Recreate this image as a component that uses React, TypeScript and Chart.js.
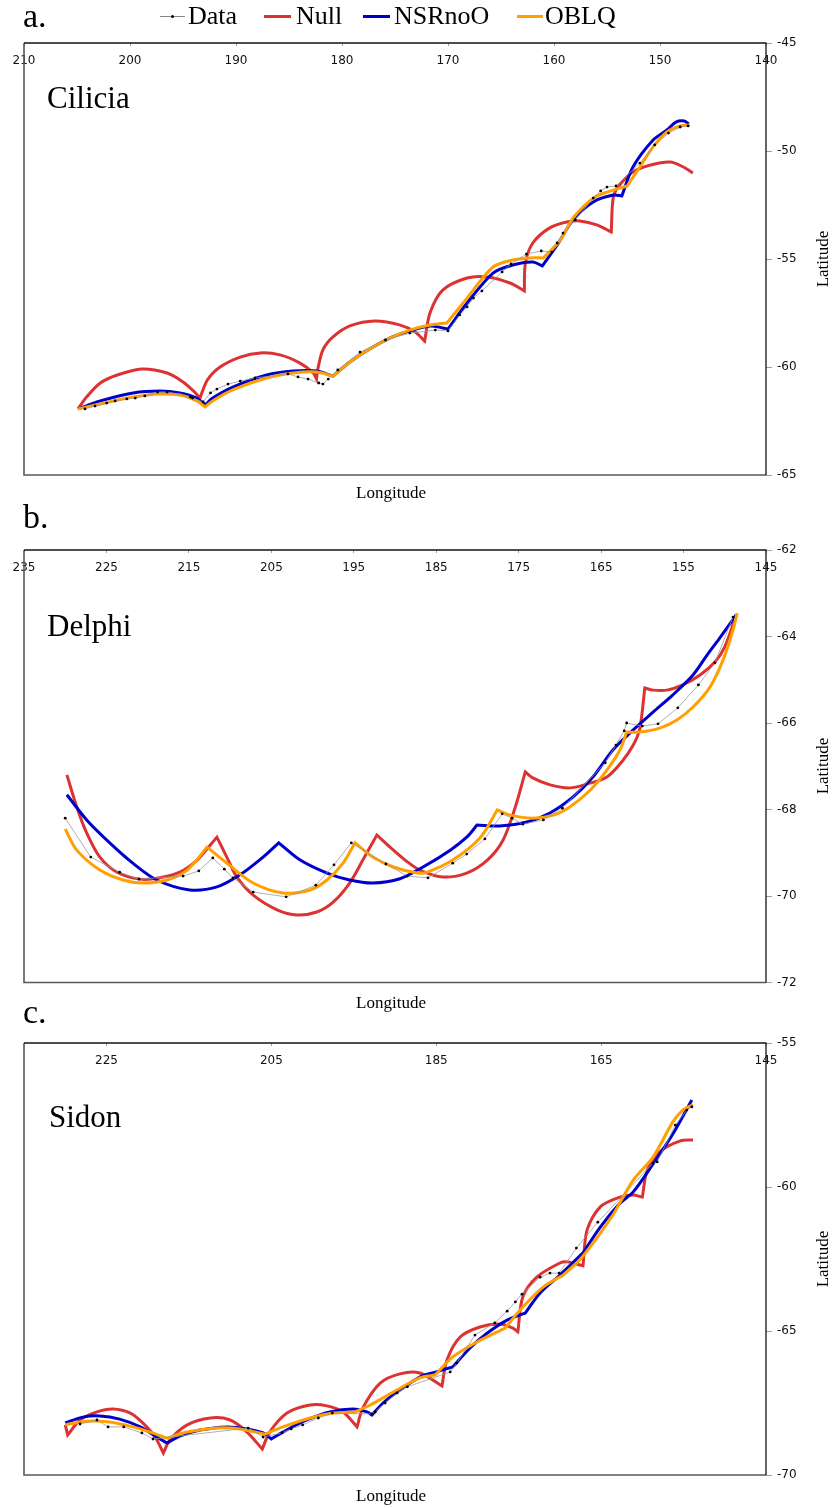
import React, { useEffect, useRef } from "react";
import { Chart, registerables } from "chart.js";

Chart.register(...registerables);

type Pt = [number, number];

// ---------- axes ----------
const CILICIA_X_TICKS = [210, 200, 190, 180, 170, 160, 150, 140];
const CILICIA_Y_TICKS = [-45, -50, -55, -60, -65];
const DELPHI_X_TICKS = [235, 225, 215, 205, 195, 185, 175, 165, 155, 145];
const DELPHI_Y_TICKS = [-62, -64, -66, -68, -70, -72];
const SIDON_X_TICKS = [225, 205, 185, 165, 145];
const SIDON_Y_TICKS = [-55, -60, -65, -70];

// ---------- a. Cilicia ----------
const CILICIA_DATA: Pt[] = [
  [204.25, -61.94], [203.3, -61.81], [202.2, -61.67], [201.4, -61.57], [200.3, -61.48], [199.5, -61.44],
  [198.6, -61.34], [197.4, -61.16], [196.5, -61.16], [194.3, -61.39], [194.1, -61.44], [193.1, -61.62],
  [192.4, -61.2], [191.8, -61.02], [190.75, -60.79], [189.6, -60.65], [188.2, -60.51], [185.1, -60.32],
  [184.15, -60.46], [183.2, -60.56], [182.2, -60.74], [181.8, -60.79], [181.3, -60.56], [180.4, -60.14],
  [178.3, -59.31], [175.9, -58.75], [173.6, -58.43], [171.2, -58.29], [170.0, -58.33], [168.9, -57.59],
  [168.2, -57.22], [167.6, -56.81], [166.8, -56.48], [164.9, -55.6], [164.05, -55.23], [162.6, -54.77],
  [161.2, -54.63], [160.2, -54.68], [159.7, -54.26], [159.15, -53.8], [158.0, -53.19], [156.3, -52.18],
  [155.6, -51.85], [155.0, -51.67], [154.15, -51.62], [151.9, -50.56], [150.5, -49.72], [149.2, -49.17],
  [148.1, -48.89], [147.35, -48.84],
];
const CILICIA_NULL: Pt[][] = [
  [[204.9, -61.94], [204.1, -61.39], [202.8, -60.74], [201.2, -60.37], [198.9, -60.09], [196.5, -60.28], [195.0, -60.69], [193.9, -61.16], [193.4, -61.44]],
  [[193.4, -61.44], [192.7, -60.6], [191.5, -60.0], [189.6, -59.54], [187.7, -59.35], [185.85, -59.44], [184.0, -59.81], [182.7, -60.28], [182.4, -60.56]],
  [[182.4, -60.56], [182.3, -60.14], [181.8, -59.21], [180.85, -58.61], [179.25, -58.1], [176.9, -57.87], [174.5, -58.06], [173.1, -58.38], [172.2, -58.8]],
  [[172.2, -58.8], [171.7, -57.5], [170.5, -56.44], [168.2, -55.88], [166.3, -55.83], [164.15, -56.11], [162.8, -56.48]],
  [[162.8, -56.48], [162.7, -55.19], [162.0, -54.26], [160.4, -53.56], [158.8, -53.29], [157.55, -53.24], [155.9, -53.43], [154.6, -53.75]],
  [[154.6, -53.75], [154.4, -52.13], [153.8, -51.57], [152.55, -50.97], [150.9, -50.65], [149.05, -50.51], [147.8, -50.74], [146.9, -51.02]],
];
const CILICIA_NSR: Pt[][] = [
  [[204.9, -61.94], [202.8, -61.57], [199.7, -61.2], [197.2, -61.11], [195.3, -61.2], [193.7, -61.44], [192.9, -61.76]],
  [[192.9, -61.76], [192.2, -61.44], [190.3, -60.93], [187.1, -60.37], [184.6, -60.19], [182.4, -60.19], [180.85, -60.42]],
  [[180.85, -60.42], [179.25, -59.77], [177.4, -59.17], [175.5, -58.66], [173.6, -58.33], [171.7, -58.1], [170.5, -58.19], [170.0, -58.24]],
  [[170.0, -58.24], [168.2, -57.04], [165.75, -55.65], [163.9, -55.28], [162.0, -55.14], [161.1, -55.32]],
  [[161.1, -55.32], [159.7, -54.35], [158.2, -53.19], [156.3, -52.36], [154.4, -52.04], [153.6, -52.08]],
  [[153.6, -52.08], [152.55, -50.74], [150.65, -49.49], [149.35, -49.03], [148.5, -48.66], [147.7, -48.61], [147.3, -48.75]],
];
const CILICIA_OBLQ: Pt[][] = [
  [[204.9, -61.94], [202.8, -61.71], [199.7, -61.39], [197.2, -61.25], [195.3, -61.3], [193.7, -61.57], [192.9, -61.85]],
  [[192.9, -61.85], [192.2, -61.57], [190.3, -61.06], [187.1, -60.51], [184.6, -60.28], [182.4, -60.23], [180.85, -60.42]],
  [[180.85, -60.42], [179.25, -59.77], [177.4, -59.17], [175.5, -58.66], [173.6, -58.29], [171.7, -58.06], [170.1, -57.96]],
  [[170.1, -57.96], [168.2, -56.81], [165.75, -55.37], [163.9, -55.05], [162.3, -54.95], [161.0, -54.95]],
  [[161.0, -54.95], [159.4, -54.12], [158.2, -53.1], [156.3, -52.18], [155.0, -51.9], [153.1, -51.62]],
  [[153.1, -51.62], [151.9, -50.74], [150.65, -49.81], [149.35, -49.12], [148.1, -48.84], [147.2, -48.8]],
];

// ---------- b. Delphi ----------
const DELPHI_DATA: Pt[] = [
  [230.0, -68.2], [226.9, -69.1], [223.4, -69.45], [221.05, -69.61], [215.7, -69.54], [213.8, -69.42],
  [212.1, -69.12], [210.7, -69.38], [209.65, -69.58], [207.2, -69.91], [203.2, -70.02], [199.6, -69.75],
  [197.4, -69.28], [195.3, -68.77], [191.1, -69.26], [188.5, -69.54], [186.0, -69.58], [183.0, -69.24],
  [181.3, -69.03], [179.1, -68.68], [177.0, -68.1], [175.8, -68.2], [174.5, -68.34], [172.0, -68.24],
  [169.7, -67.97], [164.5, -66.92], [163.2, -66.51], [162.2, -66.18], [161.9, -66.0], [160.0, -66.07],
  [158.1, -66.02], [155.7, -65.65], [153.2, -65.12], [151.2, -64.61], [149.0, -63.55],
];
const DELPHI_NULL: Pt[][] = [
  [[229.8, -67.2], [228.6, -67.94], [227.4, -68.54], [225.8, -69.1], [223.7, -69.45], [220.9, -69.61], [218.5, -69.58], [216.1, -69.45], [214.0, -69.17], [212.4, -68.82], [211.6, -68.64]],
  [[211.6, -68.64], [210.4, -69.1], [209.2, -69.56], [207.2, -69.98], [204.3, -70.32], [201.9, -70.44], [199.5, -70.37], [197.5, -70.14], [195.5, -69.7], [193.9, -69.17], [192.2, -68.59]],
  [[192.2, -68.59], [190.6, -68.87], [188.5, -69.21], [187.0, -69.4], [184.2, -69.56], [181.3, -69.47], [178.8, -69.17], [176.9, -68.71], [175.4, -67.94], [174.2, -67.13]],
  [[174.2, -67.13], [173.3, -67.27], [171.2, -67.43], [168.8, -67.5], [166.7, -67.41], [164.3, -67.25], [162.5, -66.9], [161.1, -66.51], [160.3, -66.12], [159.7, -65.19]],
  [[159.7, -65.19], [158.7, -65.24], [157.0, -65.24], [155.1, -65.12], [153.0, -64.89], [151.2, -64.59], [150.0, -64.24], [148.6, -63.5]],
];
const DELPHI_NSR: Pt[][] = [
  [[229.8, -67.66], [227.4, -68.24], [224.6, -68.77], [221.8, -69.24], [218.9, -69.63], [214.9, -69.86], [211.6, -69.79], [208.8, -69.51], [206.0, -69.1], [204.1, -68.77]],
  [[204.1, -68.77], [201.5, -69.17], [198.25, -69.47], [195.5, -69.63], [192.7, -69.7], [189.4, -69.6], [186.6, -69.33], [183.3, -68.94], [181.3, -68.64], [180.05, -68.36]],
  [[180.05, -68.36], [177.3, -68.38], [174.0, -68.29], [171.2, -68.08], [168.4, -67.71], [166.0, -67.25], [163.55, -66.62], [161.1, -66.16], [158.7, -65.75], [156.3, -65.35], [153.85, -64.89], [152.15, -64.43], [150.6, -64.03], [148.6, -63.5]],
];
const DELPHI_OBLQ: Pt[][] = [
  [[230.0, -68.45], [228.6, -68.94], [225.8, -69.4], [223.0, -69.63], [220.6, -69.7], [217.65, -69.63], [215.2, -69.4], [212.8, -68.87]],
  [[212.8, -68.87], [210.4, -69.24], [207.2, -69.7], [203.6, -69.93], [200.3, -69.86], [198.25, -69.63], [196.3, -69.24], [194.85, -68.77]],
  [[194.85, -68.77], [192.7, -69.1], [190.2, -69.33], [187.3, -69.47], [186.1, -69.45], [183.0, -69.17], [179.7, -68.66], [177.6, -68.01]],
  [[177.6, -68.01], [176.05, -68.13], [173.3, -68.2], [170.8, -68.13], [168.8, -67.94], [166.3, -67.55], [164.3, -67.09], [162.7, -66.62], [161.9, -66.21]],
  [[161.9, -66.21], [160.3, -66.21], [157.9, -66.12], [155.8, -65.93], [153.85, -65.63], [151.8, -65.17], [150.2, -64.54], [149.0, -63.85], [148.5, -63.46]],
];

// ---------- c. Sidon ----------
const SIDON_DATA: Pt[] = [
  [228.2, -68.23], [226.15, -68.09], [224.8, -68.33], [222.9, -68.33], [220.7, -68.54], [219.35, -68.75],
  [207.8, -68.37], [206.0, -68.68], [203.7, -68.54], [202.6, -68.4], [201.2, -68.26], [199.3, -68.02],
  [197.6, -67.85], [192.8, -67.88], [192.4, -67.81], [191.2, -67.5], [189.75, -67.15], [188.5, -66.94],
  [183.3, -66.42], [182.5, -66.11], [180.3, -65.14], [177.9, -64.72], [176.4, -64.31], [175.4, -63.99],
  [174.6, -63.72], [172.4, -63.13], [171.2, -62.99], [170.1, -62.99], [168.0, -62.12], [165.4, -61.22],
  [158.7, -59.17], [158.2, -59.13], [156.0, -57.85], [154.6, -57.33], [154.0, -57.22],
];
const SIDON_NULL: Pt[][] = [
  [[230.0, -68.26], [229.7, -68.61]],
  [[229.7, -68.61], [228.2, -68.09], [226.15, -67.81], [224.2, -67.71], [222.1, -67.85], [220.6, -68.19], [219.1, -68.68], [218.1, -69.24]],
  [[218.1, -69.24], [217.3, -68.78], [215.2, -68.26], [212.4, -68.02], [210.0, -68.09], [207.95, -68.51], [206.1, -69.1]],
  [[206.1, -69.1], [205.2, -68.51], [203.1, -67.85], [200.3, -67.57], [198.25, -67.6], [196.3, -67.81], [194.6, -68.33]],
  [[194.6, -68.33], [193.9, -67.67], [191.8, -66.81], [189.4, -66.49], [187.0, -66.46], [184.3, -66.91]],
  [[184.3, -66.91], [183.7, -66.01], [182.1, -65.21], [179.7, -64.86], [177.3, -64.76], [175.7, -64.9], [175.1, -65.03]],
  [[175.1, -65.03], [174.5, -63.82], [172.8, -63.13], [170.0, -62.64], [169.1, -62.6], [167.2, -62.74]],
  [[167.2, -62.74], [166.7, -61.49], [165.1, -60.69], [162.7, -60.35], [161.1, -60.28], [160.0, -60.35]],
  [[160.0, -60.35], [159.4, -59.41], [157.9, -58.78], [155.4, -58.4], [153.85, -58.37]],
];
const SIDON_NSR: Pt[][] = [
  [[230.0, -68.19], [227.85, -67.99], [225.8, -67.95], [223.4, -68.06], [220.9, -68.33], [218.9, -68.68], [217.65, -68.89]],
  [[217.65, -68.89], [216.1, -68.65], [213.65, -68.44], [210.4, -68.33], [207.95, -68.4], [206.0, -68.54], [205.0, -68.75]],
  [[205.0, -68.75], [203.6, -68.51], [200.7, -68.09], [197.9, -67.81], [195.1, -67.71], [193.4, -67.81], [192.8, -67.92]],
  [[192.8, -67.92], [191.45, -67.5], [189.4, -67.05], [187.0, -66.6], [185.0, -66.42], [183.0, -66.25]],
  [[183.0, -66.25], [180.9, -65.59], [178.8, -65.07], [176.4, -64.62], [174.2, -64.38]],
  [[174.2, -64.38], [172.4, -63.68], [170.0, -63.06], [167.2, -62.29]],
  [[167.2, -62.29], [165.1, -61.39], [162.7, -60.56], [161.1, -60.17], [158.7, -59.2], [156.3, -58.16], [154.0, -56.98]],
];
const SIDON_OBLQ: Pt[][] = [
  [[230.0, -68.26], [227.4, -68.13], [224.6, -68.16], [221.8, -68.33], [219.7, -68.51], [217.65, -68.72]],
  [[217.65, -68.72], [215.2, -68.51], [211.6, -68.37], [208.8, -68.4], [205.8, -68.58]],
  [[205.8, -68.58], [203.6, -68.33], [200.3, -68.02], [197.5, -67.85], [194.85, -67.81]],
  [[194.85, -67.81], [193.0, -67.57], [190.2, -67.12], [187.0, -66.63], [185.15, -66.53]],
  [[185.15, -66.53], [183.0, -65.9], [180.05, -65.38], [176.65, -64.9]],
  [[176.65, -64.9], [174.5, -64.17], [172.0, -63.47], [169.6, -63.06]],
  [[169.6, -63.06], [167.6, -62.53], [165.7, -61.84], [163.55, -60.97]],
  [[163.55, -60.97], [161.1, -59.76], [158.7, -58.96], [156.3, -57.74], [155.1, -57.33], [153.85, -57.15]],
];

// ---------- style ----------
const COL_DATA_LINE = "#9a9a9a";
const COL_NULL = "#DC3232";
const COL_NSR = "#0000CD";
const COL_OBLQ = "#FFA000";
const SERIF = '"Liberation Serif", "Times New Roman", Times, serif';
const SANS = '"DejaVu Sans", Verdana, sans-serif';

const toXY = (pts: Pt[]) => pts.map(([x, y]) => ({ x, y }));
const flatArcs = (arcs: Pt[][]) => toXY(arcs.flat() as Pt[]);

const framePlugin = {
  id: "frame",
  afterDatasetsDraw(chart: any) {
    const { left, top, right, bottom } = chart.chartArea;
    const ctx = chart.ctx;
    ctx.save();
    ctx.lineWidth = 1.6;
    ctx.strokeStyle = "#585858";
    ctx.beginPath();
    ctx.moveTo(left, top);
    ctx.lineTo(left, bottom);
    ctx.lineTo(right, bottom);
    ctx.stroke();
    ctx.lineWidth = 1.3;
    ctx.strokeStyle = "#151515";
    ctx.beginPath();
    ctx.moveTo(left, top);
    ctx.lineTo(right, top);
    ctx.lineTo(right, bottom);
    ctx.stroke();
    ctx.restore();
  },
};

type PanelProps = {
  top: number;
  height: number;
  padTop: number;
  padBottom: number;
  xMin: number;
  xMax: number;
  yMin: number;
  yMax: number;
  xTicks: number[];
  yTicks: number[];
  data: Pt[];
  nul: Pt[][];
  nsr: Pt[][];
  oblq: Pt[][];
};

function Panel(p: PanelProps) {
  const ref = useRef<HTMLCanvasElement | null>(null);
  useEffect(() => {
    if (!ref.current) return;
    const tickFont = { family: SANS, size: 12 };
    const chart = new Chart(ref.current, {
      type: "scatter",
      data: {
        datasets: [
          {
            label: "Data",
            data: toXY(p.data),
            showLine: true,
            borderColor: COL_DATA_LINE,
            borderWidth: 0.8,
            pointRadius: 1.4,
            pointBackgroundColor: "#000",
            pointBorderWidth: 0,
            tension: 0,
          },
          {
            label: "OBLQ",
            data: flatArcs(p.oblq),
            showLine: true,
            borderColor: COL_OBLQ,
            borderWidth: 3,
            pointRadius: 0,
            tension: 0.3,
            borderJoinStyle: "miter",
          },
          {
            label: "NSRnoO",
            data: flatArcs(p.nsr),
            showLine: true,
            borderColor: COL_NSR,
            borderWidth: 3,
            pointRadius: 0,
            tension: 0.3,
            borderJoinStyle: "miter",
          },
          {
            label: "Null",
            data: flatArcs(p.nul),
            showLine: true,
            borderColor: COL_NULL,
            borderWidth: 3,
            pointRadius: 0,
            tension: 0.3,
            borderJoinStyle: "miter",
          },
        ] as any,
      },
      options: {
        responsive: false,
        maintainAspectRatio: false,
        animation: false,
        devicePixelRatio: 1,
        events: [],
        layout: { padding: { left: 24, right: 0, top: p.padTop, bottom: p.padBottom } },
        plugins: {
          legend: { display: false },
          tooltip: { enabled: false },
          title: { display: false },
        },
        scales: {
          x: {
            type: "linear",
            position: "top",
            min: p.xMin,
            max: p.xMax,
            reverse: true,
            afterBuildTicks: (s: any) => {
              s.ticks = p.xTicks.map((v) => ({ value: v }));
            },
            afterFit: (s: any) => {
              s.height = 0;
            },
            grid: { drawOnChartArea: false, drawTicks: true, tickLength: -3, color: "#a0a0a0" },
            border: { display: false },
            ticks: {
              mirror: true,
              padding: 11,
              color: "#111",
              font: tickFont,
              maxRotation: 0,
              autoSkip: false,
              callback: (v: any) => String(v),
            },
          },
          y: {
            type: "linear",
            position: "right",
            min: p.yMin,
            max: p.yMax,
            afterBuildTicks: (s: any) => {
              s.ticks = p.yTicks.map((v) => ({ value: v }));
            },
            afterFit: (s: any) => {
              s.width = 67;
            },
            grid: { drawOnChartArea: false, drawTicks: true, tickLength: 6, color: "#a0a0a0" },
            border: { display: false },
            ticks: {
              padding: 5,
              color: "#111",
              font: tickFont,
              autoSkip: false,
              callback: (v: any) => String(v),
            },
          },
        },
      } as any,
      plugins: [framePlugin],
    });
    return () => chart.destroy();
  }, []);
  return (
    <canvas
      ref={ref}
      width={833}
      height={p.height}
      style={{ position: "absolute", left: 0, top: p.top, width: 833, height: p.height }}
    />
  );
}

function Txt(props: { x: number; y: number; size: number; center?: boolean; children: React.ReactNode }) {
  const { x, y, size, center, children } = props;
  return (
    <div
      style={{
        position: "absolute",
        left: x,
        top: y - 0.8375 * size,
        fontSize: size,
        lineHeight: `${size}px`,
        fontFamily: SERIF,
        whiteSpace: "nowrap",
        color: "#000",
        transform: center ? "translateX(-50%)" : undefined,
      }}
    >
      {children}
    </div>
  );
}

function VTxt(props: { cx: number; cy: number; size: number; children: React.ReactNode }) {
  return (
    <div
      style={{
        position: "absolute",
        left: props.cx,
        top: props.cy,
        fontSize: props.size,
        lineHeight: `${props.size}px`,
        fontFamily: SERIF,
        whiteSpace: "nowrap",
        color: "#000",
        transform: "translate(-50%, -50%) rotate(-90deg)",
      }}
    >
      {props.children}
    </div>
  );
}

function LegendLine(props: { x: number; w: number; color: string }) {
  return (
    <div
      style={{ position: "absolute", left: props.x, top: 15, width: props.w, height: 3, background: props.color }}
    />
  );
}

export default function App() {
  return (
    <div
      style={{
        position: "absolute",
        left: 0,
        top: 0,
        width: 833,
        height: 1508,
        background: "#fff",
        overflow: "hidden",
      }}
    >
      <Panel
        top={30}
        height={460}
        padTop={13}
        padBottom={15}
        xMin={140}
        xMax={210}
        yMin={-65}
        yMax={-45}
        xTicks={CILICIA_X_TICKS}
        yTicks={CILICIA_Y_TICKS}
        data={CILICIA_DATA}
        nul={CILICIA_NULL}
        nsr={CILICIA_NSR}
        oblq={CILICIA_OBLQ}
      />
      <Panel
        top={530}
        height={470}
        padTop={20}
        padBottom={17.5}
        xMin={145}
        xMax={235}
        yMin={-72}
        yMax={-62}
        xTicks={DELPHI_X_TICKS}
        yTicks={DELPHI_Y_TICKS}
        data={DELPHI_DATA}
        nul={DELPHI_NULL}
        nsr={DELPHI_NSR}
        oblq={DELPHI_OBLQ}
      />
      <Panel
        top={1030}
        height={460}
        padTop={13}
        padBottom={15}
        xMin={145}
        xMax={235}
        yMin={-70}
        yMax={-55}
        xTicks={SIDON_X_TICKS}
        yTicks={SIDON_Y_TICKS}
        data={SIDON_DATA}
        nul={SIDON_NULL}
        nsr={SIDON_NSR}
        oblq={SIDON_OBLQ}
      />

      {/* legend */}
      <div style={{ position: "absolute", left: 160, top: 16, width: 25, height: 1, background: "#888" }} />
      <div style={{ position: "absolute", left: 171, top: 15, width: 3, height: 3, borderRadius: 2, background: "#000" }} />
      <Txt x={188} y={25} size={26}>Data</Txt>
      <LegendLine x={264} w={27} color={COL_NULL} />
      <Txt x={296} y={25} size={26}>Null</Txt>
      <LegendLine x={363} w={27} color={COL_NSR} />
      <Txt x={394} y={25} size={26}>NSRnoO</Txt>
      <LegendLine x={517} w={26} color={COL_OBLQ} />
      <Txt x={545} y={25} size={26}>OBLQ</Txt>

      {/* panel letters */}
      <Txt x={23} y={27} size={34}>a.</Txt>
      <Txt x={23} y={528} size={34}>b.</Txt>
      <Txt x={23} y={1023} size={34}>c.</Txt>

      {/* site names */}
      <Txt x={47} y={108} size={31}>Cilicia</Txt>
      <Txt x={47} y={636} size={31}>Delphi</Txt>
      <Txt x={49} y={1127} size={31}>Sidon</Txt>

      {/* axis titles */}
      <Txt x={391} y={498} size={17} center>Longitude</Txt>
      <Txt x={391} y={1008} size={17} center>Longitude</Txt>
      <Txt x={391} y={1501} size={17} center>Longitude</Txt>
      <VTxt cx={822} cy={259} size={17}>Latitude</VTxt>
      <VTxt cx={822} cy={766} size={17}>Latitude</VTxt>
      <VTxt cx={822} cy={1259} size={17}>Latitude</VTxt>
    </div>
  );
}
